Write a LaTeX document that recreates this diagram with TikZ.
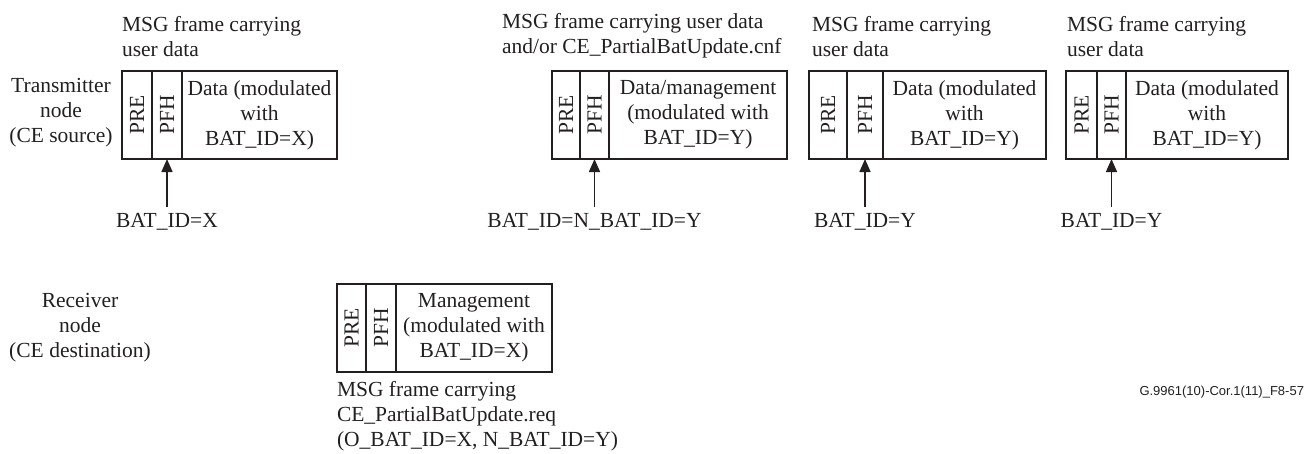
\documentclass[tikz,border=0pt]{standalone}
\usepackage{fontspec}
\setmainfont{Liberation Serif}
\newfontfamily\sansf{Liberation Sans}
\usetikzlibrary{arrows.meta}
\definecolor{ink}{HTML}{231F20}
\begin{document}
\begin{tikzpicture}[x=1pt,y=-1pt,
  every node/.style={font=\fontsize{21.5}{25}\selectfont, inner sep=0pt, outer sep=0pt, text=ink},
  cell/.style={draw=ink, line width=1.5pt, minimum height=88pt, anchor=north west, align=center},
  lbl/.style={anchor=west, align=left},
  idl/.style={anchor=base},
  arr/.style={draw=ink, line width=1.5pt, -{Triangle[length=13pt,width=11pt]}, shorten <=6pt}]
\useasboundingbox (0,0) rectangle (1306,453);

% side labels
\node[align=center] (tx) at (61,113) {Transmitter\\node\\(CE source)};
\node[align=center] (rx) at (80,328) {Receiver\\node\\(CE destination)};

% frame 1
\node[cell, minimum width=30pt] (a1) at (122,71) {\rotatebox{90}{PRE}};
\node[cell, minimum width=30pt] (b1) at (152,71) {\rotatebox{90}{PFH}};
\node[cell, minimum width=155pt] (c1) at (182,71) {Data (modulated\\with\\BAT\_ID=X)};
\node[lbl] (t1) at (122,37) {MSG frame carrying\\user data};
\node[idl] (i1) at (167,227) {BAT\_ID=X};
\draw[arr] (i1.north) -- (b1.south);

% frame 2
\node[cell, minimum width=28pt] (a2) at (552,71) {\rotatebox{90}{PRE}};
\node[cell, minimum width=29pt] (b2) at (580,71) {\rotatebox{90}{PFH}};
\node[cell, minimum width=178pt] (c2) at (609,71) {Data/management\\(modulated with\\BAT\_ID=Y)};
\node[lbl] (t2) at (502,36) {MSG frame carrying user data\\and/or CE\_PartialBatUpdate.cnf};
\node[idl] (i2) at (594.5,227) {BAT\_ID=N\_BAT\_ID=Y};
\draw[arr] (i2.north) -- (b2.south);

% frame 3
\node[cell, minimum width=38pt] (a3) at (809,71) {\rotatebox{90}{PRE}};
\node[cell, minimum width=36pt] (b3) at (847,71) {\rotatebox{90}{PFH}};
\node[cell, minimum width=163pt] (c3) at (883,71) {Data (modulated\\with\\BAT\_ID=Y)};
\node[lbl] (t3) at (812,37) {MSG frame carrying\\user data};
\node[idl] (i3) at (865,227) {BAT\_ID=Y};
\draw[arr] (i3.north) -- (b3.south);

% frame 4
\node[cell, minimum width=31pt] (a4) at (1066,71) {\rotatebox{90}{PRE}};
\node[cell, minimum width=29pt] (b4) at (1097,71) {\rotatebox{90}{PFH}};
\node[cell, minimum width=162pt] (c4) at (1126,71) {Data (modulated\\with\\BAT\_ID=Y)};
\node[lbl] (t4) at (1067,37) {MSG frame carrying\\user data};
\node[idl] (i4) at (1111.5,227) {BAT\_ID=Y};
\draw[arr] (i4.north) -- (b4.south);

% receiver frame
\node[cell, minimum width=29pt] (a5) at (337,284) {\rotatebox{90}{PRE}};
\node[cell, minimum width=30pt] (b5) at (366,284) {\rotatebox{90}{PFH}};
\node[cell, minimum width=156pt] (c5) at (396,284) {Management\\(modulated with\\BAT\_ID=X)};
\node[lbl] (t5) at (337,416) {MSG frame carrying\\CE\_PartialBatUpdate.req\\(O\_BAT\_ID=X, N\_BAT\_ID=Y)};

% figure id
\node[anchor=east, font=\sansf\fontsize{13}{15}\selectfont] (fid) at (1304,392) {G.9961(10)-Cor.1(11)\_F8-57};
\end{tikzpicture}
\end{document}
